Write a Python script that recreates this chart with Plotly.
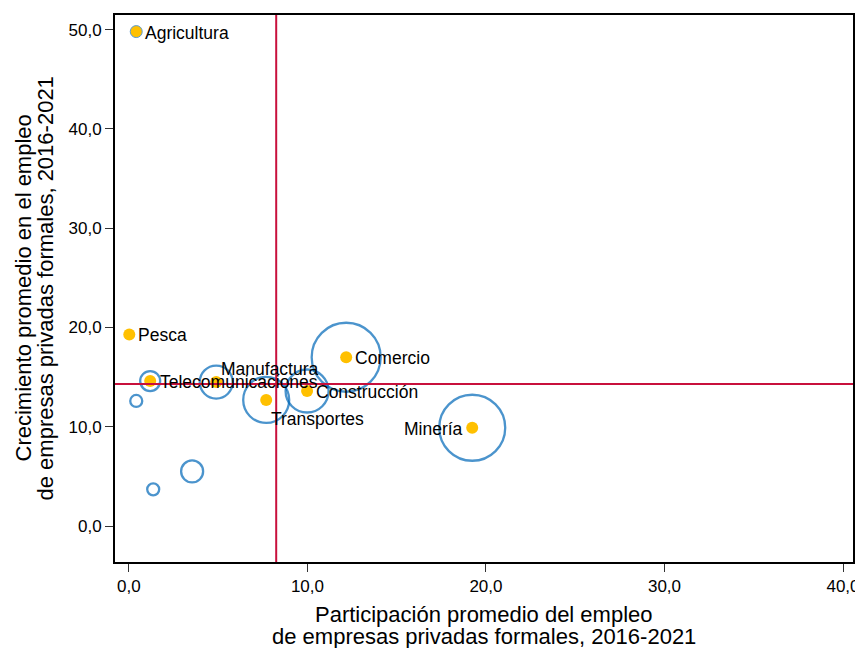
import plotly.graph_objects as go

# sectores con punto amarillo
sectores = ["Agricultura", "Pesca", "Telecomunicaciones", "Manufactura",
            "Transportes", "Construcción", "Comercio", "Minería"]
participacion = [0.41, 0.02, 1.19, 4.89, 7.69, 9.98, 12.17, 19.23]
crecimiento = [49.8, 19.3, 14.6, 14.5, 12.7, 13.6, 17.0, 9.9]

# burbujas (azules)
burbuja_x = [1.19, 4.89, 7.69, 9.98, 12.17, 19.23, 0.41, 3.54, 1.36]
burbuja_y = [14.6, 14.5, 12.7, 13.6, 17.0, 9.9, 12.6, 5.5, 3.7]
burbuja_tam = [20, 33, 46, 43, 69, 66, 12, 22, 12]

# promedios (lineas de referencia)
prom_x = 8.25
prom_y = 14.3

x_ticks = [0, 10, 20, 30, 40]
y_ticks = [0, 10, 20, 30, 40, 50]

FONT = "Liberation Sans, Arial, sans-serif"
BLACK = "#000000"

fig = go.Figure()

fig.add_trace(go.Scatter(
    x=burbuja_x, y=burbuja_y, mode="markers",
    marker=dict(size=burbuja_tam, sizemode="diameter", sizeref=1,
                color="rgba(0,0,0,0)", line=dict(color="#0068B8", width=2.3)),
    hoverinfo="skip", showlegend=False,
))

fig.add_trace(go.Scatter(
    x=participacion, y=crecimiento, mode="markers",
    marker=dict(size=12, color="#FFC000",
                line=dict(color="#5B9BD5", width=[1] + [0] * 7)),
    text=sectores, showlegend=False,
))

# posicion de etiquetas: (anclaje, desplazamiento x, desplazamiento y)
label_pos = {
    "Agricultura": ("left", 7, -1),
    "Pesca": ("left", 7, -1),
    "Telecomunicaciones": ("left", 8, -1),
    "Manufactura": ("left", 3, 13),
    "Transportes": ("left", 3, -19),
    "Construcción": ("left", 7, -1),
    "Comercio": ("left", 7, -1),
    "Minería": ("right", -7, -1),
}
for s, xv, yv in zip(sectores, participacion, crecimiento):
    anchor, dx, dy = label_pos[s]
    fig.add_annotation(x=xv, y=yv, text=s, showarrow=False, xanchor=anchor,
                       yanchor="middle", xshift=dx, yshift=dy,
                       font=dict(family=FONT, size=17.5, color=BLACK))

fig.add_shape(type="line", x0=prom_x, x1=prom_x, y0=0, y1=1, yref="paper",
              line=dict(color="#C8103C", width=2))
fig.add_shape(type="line", x0=0, x1=1, xref="paper", y0=prom_y, y1=prom_y,
              line=dict(color="#C8103C", width=2))

# titulos de ejes (como anotaciones para controlar el interlineado)
x_title = ["Participación promedio del empleo",
           "de empresas privadas formales, 2016-2021"]
y_title = ["Crecimiento promedio en el empleo",
           "de empresas privadas formales, 2016-2021"]
for line, shift in zip(x_title, [-52, -74]):
    fig.add_annotation(x=0.5, y=0, xref="paper", yref="paper", text=line,
                       showarrow=False, xanchor="center", yanchor="middle",
                       yshift=shift, font=dict(family=FONT, size=22, color=BLACK))
for line, shift in zip(y_title, [-92, -70]):
    fig.add_annotation(x=0, y=0.5, xref="paper", yref="paper", text=line,
                       showarrow=False, textangle=-90, xanchor="center",
                       yanchor="middle", xshift=shift,
                       font=dict(family=FONT, size=22, color=BLACK))

axis_common = dict(
    showgrid=False, zeroline=False, showline=True, linecolor=BLACK,
    linewidth=2, mirror=True, ticks="outside", ticklen=8, tickwidth=1,
    tickcolor="#333333", tickfont=dict(family=FONT, size=17, color=BLACK),
    automargin=False, ticklabeloverflow="allow",
)

fig.update_xaxes(
    range=[-0.78, 40.56], tickvals=x_ticks,
    ticktext=[f"{v:.1f}".replace(".", ",") for v in x_ticks],
    **axis_common,
)
fig.update_yaxes(
    range=[-3.62, 51.47], tickvals=y_ticks,
    ticktext=[f"{v:.1f}".replace(".", ",") for v in y_ticks],
    **axis_common,
)

# la pagina tiene 8 px de margen en el body, se compensa aqui
fig.update_layout(
    width=855, height=640,
    margin=dict(l=107, r=10, t=7, b=86),
    plot_bgcolor="white", paper_bgcolor="white",
    font=dict(family=FONT),
)

fig.write_html("out.html")
